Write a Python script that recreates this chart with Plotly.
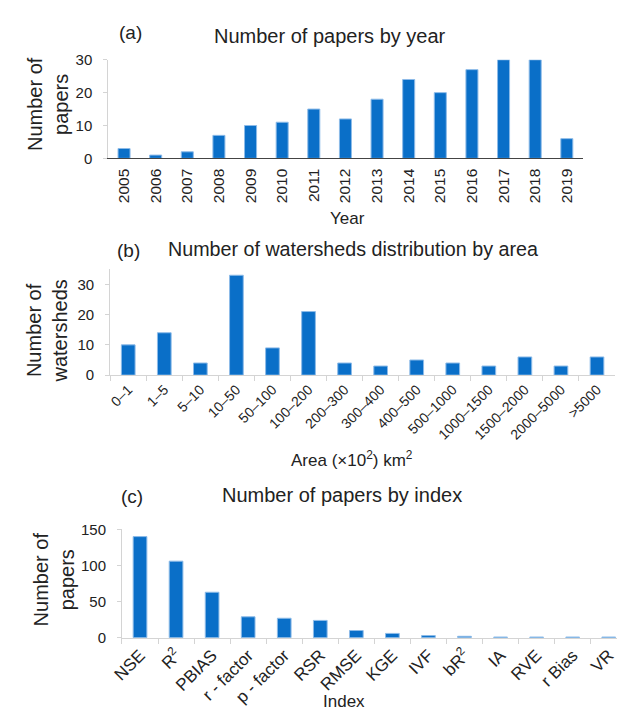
import plotly.graph_objects as go

W, H = 617, 718

years = ["2005", "2006", "2007", "2008", "2009", "2010", "2011", "2012",
         "2013", "2014", "2015", "2016", "2017", "2018", "2019"]
papers_by_year = [3, 1, 2, 7, 10, 11, 15, 12, 18, 24, 20, 27, 30, 30, 6]

areas = ["0–1", "1–5", "5–10", "10–50", "50–100", "100–200", "200–300",
         "300–400", "400–500", "500–1000", "1000–1500", "1500–2000",
         "2000–5000", ">5000"]
watersheds = [10, 14, 4, 33, 9, 21, 4, 3, 5, 4, 3, 6, 3, 6]

indices = ["NSE", "R<sup>2</sup>", "PBIAS", "r - factor", "p - factor", "RSR",
           "RMSE", "KGE", "IVF", "bR<sup>2</sup>", "IA", "RVE", "r Bias", "VR"]
papers_by_index = [140, 106, 63, 29, 27, 24, 10, 6, 3, 2, 1, 1, 1, 1]

FONT = "Liberation Sans, Arial, sans-serif"
BLUE = "#0a6fc8"
EDGE = "#8dbbe8"
GRID = "#d4d4d4"
TXT = "#222222"


def px(x):
    return x / W


def py(y):
    return 1 - y / H


fig = go.Figure()
fig.add_trace(go.Bar(x=years, y=papers_by_year, xaxis="x", yaxis="y",
                     marker=dict(color=BLUE, line=dict(color=EDGE, width=1))))
fig.add_trace(go.Bar(x=areas, y=watersheds, xaxis="x2", yaxis="y2",
                     marker=dict(color=BLUE, line=dict(color=EDGE, width=1))))
fig.add_trace(go.Bar(x=indices, y=papers_by_index, xaxis="x3", yaxis="y3",
                     marker=dict(color=BLUE, line=dict(color=EDGE, width=1))))

common_y = dict(showgrid=False, zeroline=False, showline=True, linecolor=GRID,
                linewidth=1, ticks="outside", ticklen=4, tickcolor=GRID,
                ticklabelstandoff=8,
                tickfont=dict(size=15, color=TXT, family=FONT))

fig.update_layout(
    width=W, height=H, margin=dict(l=0, r=0, t=0, b=0),
    paper_bgcolor="white", plot_bgcolor="white", showlegend=False,
    font=dict(family=FONT, color=TXT),
    bargap=0.62,
    xaxis=dict(domain=[px(99), px(582)], anchor="y", type="category",
               showline=True, linecolor="#444444", linewidth=1.2, ticks="",
               tickangle=-90, tickfont=dict(size=15.5, color=TXT),
               ticklabelstandoff=3,
               showgrid=False, range=[-0.5, 14.5]),
    yaxis=dict(domain=[py(153), py(52)], anchor="x", range=[0, 30],
               tickvals=[0, 10, 20, 30], **common_y),
    xaxis2=dict(domain=[px(101), px(615)], anchor="y2", type="category",
                showline=True, linecolor=GRID, linewidth=1, ticks="outside",
                tickson="boundaries", ticklen=5, tickcolor=GRID,
                tickangle=-45, tickfont=dict(size=14, color=TXT),
                showgrid=False, range=[-0.5, 13.5]),
    yaxis2=dict(domain=[py(375), py(266.5)], anchor="x2", range=[0, 35],
                tickvals=[0, 10, 20, 30], **common_y),
    xaxis3=dict(domain=[px(113), 1.0], anchor="y3", type="category",
                showline=True, linecolor=GRID, linewidth=1, ticks="outside",
                tickson="boundaries", ticklen=5, tickcolor=GRID,
                tickangle=-45, tickfont=dict(size=17, color=TXT),
                showgrid=False, range=[-0.5, 13.23]),
    yaxis3=dict(domain=[py(644), py(533)], anchor="x3", range=[0, 150],
                tickvals=[0, 50, 100, 150], **common_y),
)


def ann(text, x, y, size, angle=0):
    fig.add_annotation(text=text, x=px(x), y=py(y), xref="paper", yref="paper",
                       showarrow=False, textangle=angle,
                       font=dict(size=size, color=TXT, family=FONT),
                       xanchor="center", yanchor="middle")


# panel titles
ann("(a)", 122, 24, 19)
ann("Number of papers by year", 325, 28, 20)
ann("(b)", 120, 247, 19)
ann("Number of watersheds distribution by area", 348, 246, 19.7)
ann("(c)", 123, 499, 19)
ann("Number of papers by index", 337, 498, 20)

# axis titles
ann("Year", 343, 215, 17)
ann("Area (×10<sup>2</sup>) km<sup>2</sup>", 347, 461, 17)
ann("Index", 339, 709, 17)
ann("Number of<br>papers", 37, 97, 20, -90)
ann("Number of<br>watersheds", 37, 330, 20, -90)
ann("Number of<br>papers", 44, 584, 20, -90)

fig.write_html(
    "out.html",
    config={"displayModeBar": False},
    post_script="document.body.style.margin='0';"
                "document.body.style.overflow='hidden';",
)
